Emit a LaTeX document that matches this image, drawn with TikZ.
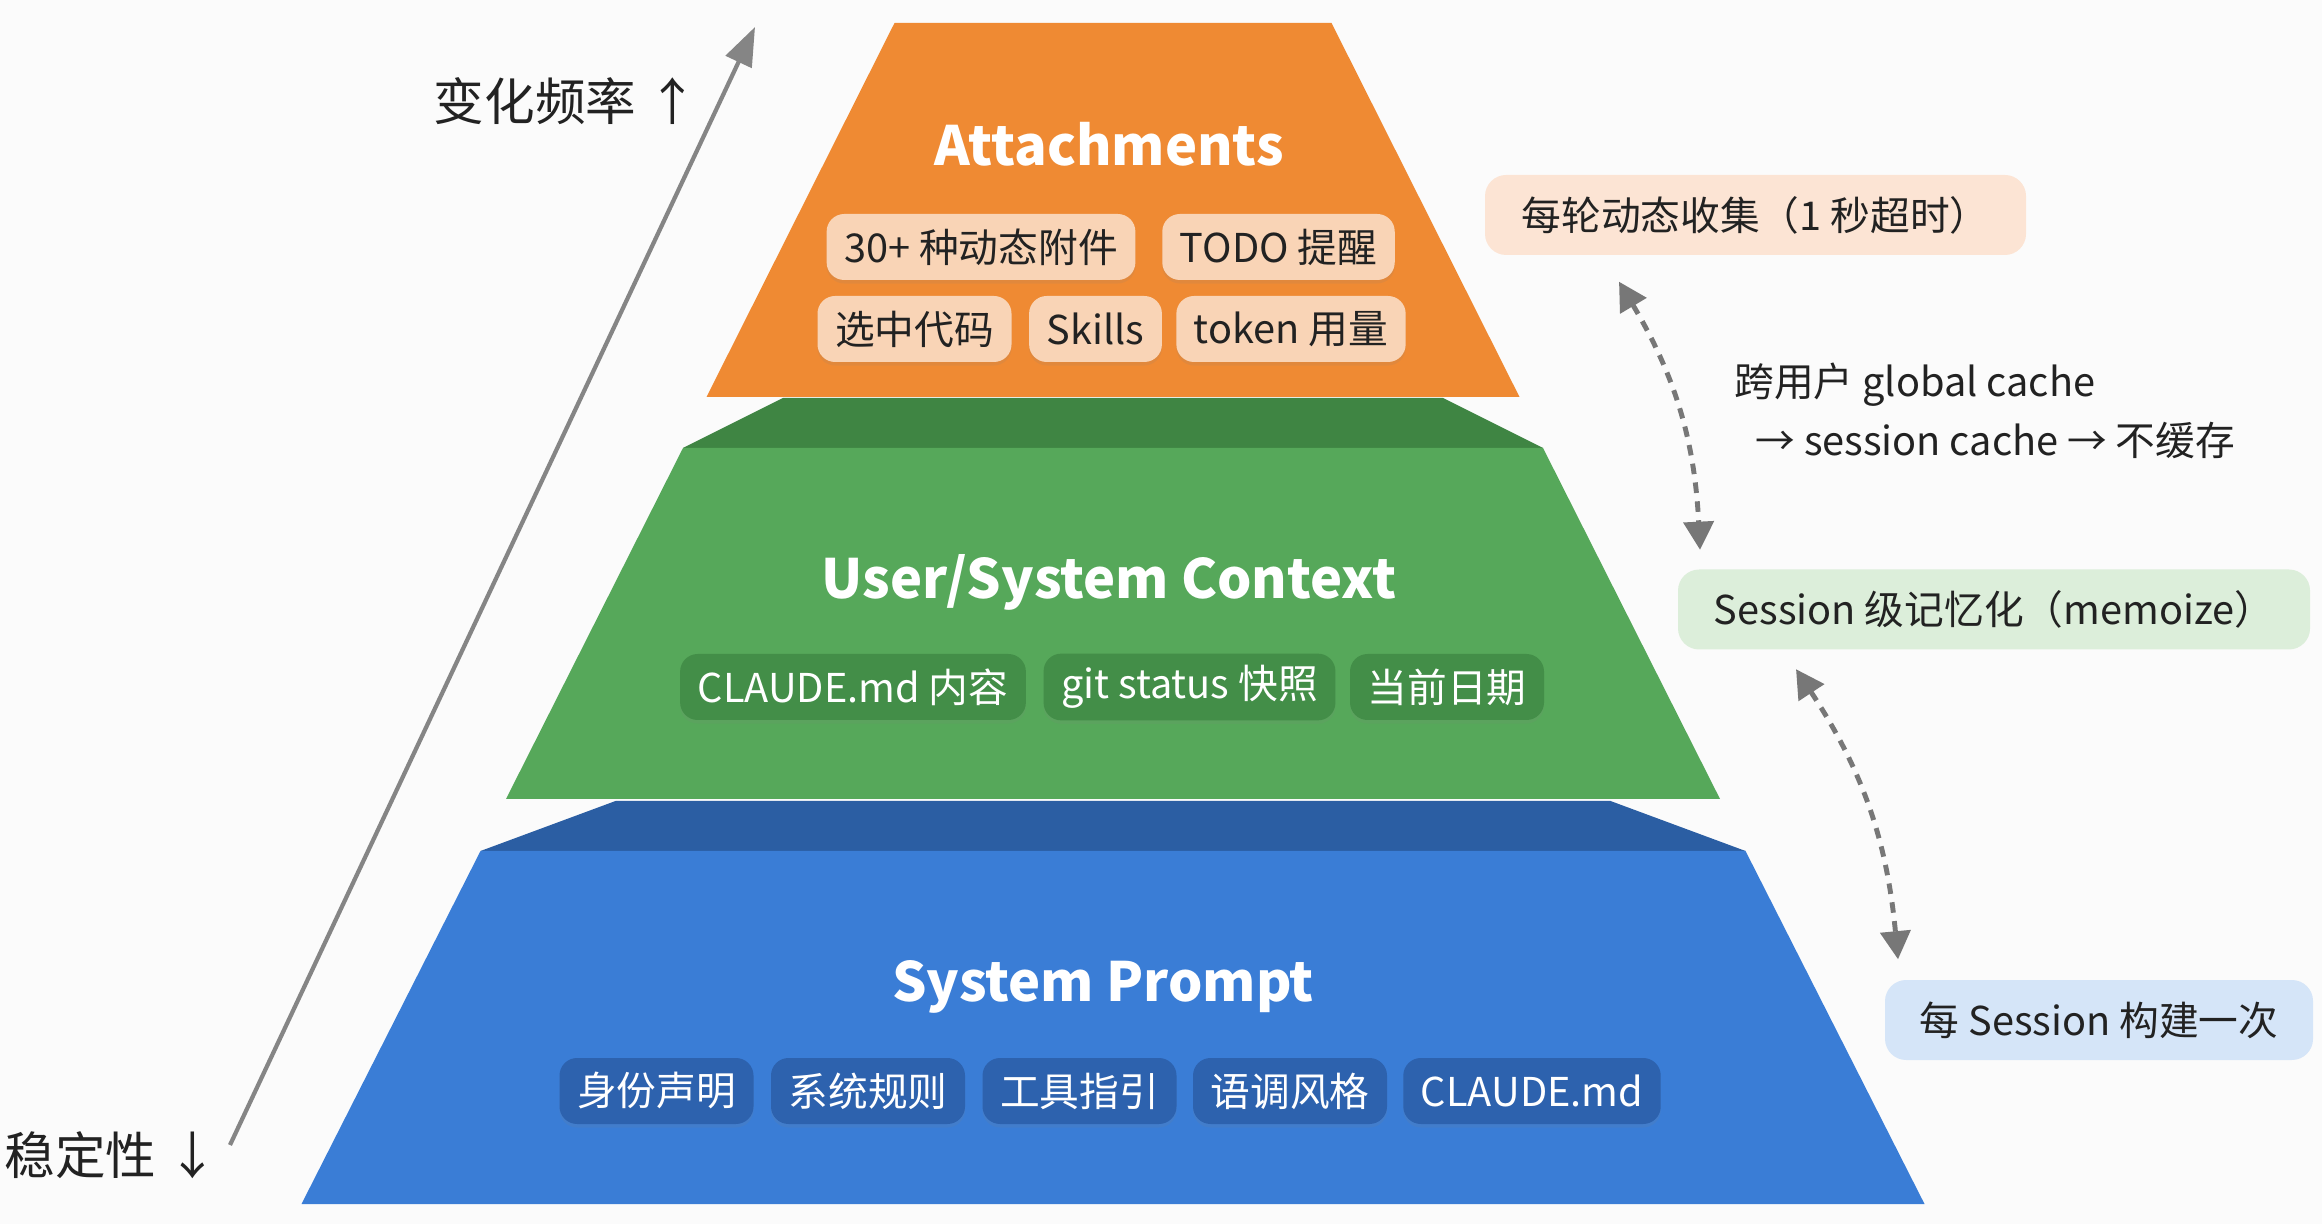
\documentclass[tikz,border=0pt]{standalone}
\usepackage{fontspec}
\setmainfont{Noto Sans CJK SC}
\usetikzlibrary{arrows.meta,shadows}

\definecolor{fondo}{HTML}{FBFBFB}
\definecolor{tinta}{HTML}{222222}
\definecolor{naranja}{HTML}{EF8A33}
\definecolor{naranjachip}{HTML}{F9D4B6}
\definecolor{verde}{HTML}{56A85A}
\definecolor{verdeosc}{HTML}{3F8543}
\definecolor{verdechip}{HTML}{438E48}
\definecolor{azul}{HTML}{3A7DD6}
\definecolor{azulosc}{HTML}{2B5EA3}
\definecolor{azulchip}{HTML}{2D62AE}
\definecolor{notanar}{HTML}{FCE4D4}
\definecolor{notaver}{HTML}{DCEEDA}
\definecolor{notaazu}{HTML}{D5E5F8}
\definecolor{flecha}{HTML}{777777}

\tikzset{
  titulo/.style={text=white, font=\fontsize{15.4}{18}\selectfont\bfseries},
  chip/.style={rounded corners=5pt, minimum height=0.66cm, inner xsep=5pt,
    font=\fontsize{11.3}{13}\selectfont,
    drop shadow={opacity=0.12, shadow xshift=0pt, shadow yshift=-1pt}},
  chipnar/.style={chip, fill=naranjachip, text=tinta},
  chipver/.style={chip, fill=verdechip, text=white},
  chipazu/.style={chip, fill=azulchip, text=white},
  nota/.style={rounded corners=6pt, minimum height=0.8cm, text=tinta,
    font=\fontsize{11.3}{13}\selectfont},
  cacheflecha/.style={flecha, line width=1.4pt, dash pattern=on 3pt off 2.4pt,
    {Triangle[length=8pt,width=8.5pt]}-{Triangle[length=8pt,width=8.5pt]}}
}

\begin{document}
\begin{tikzpicture}
  % Fondo y marco
  \useasboundingbox (0,0) rectangle (23.22,12.24);
  \fill[fondo] (0,0) rectangle (23.22,12.24);

  % Capa inferior: System Prompt
  \fill[azulosc] (6.155,4.23) -- (16.105,4.23) -- (17.455,3.73) -- (4.805,3.73) -- cycle;
  \fill[azul] (4.805,3.73) -- (17.455,3.73) -- (19.245,0.20) -- (3.015,0.20) -- cycle;

  % Capa media: User/System Context
  \fill[verdeosc] (7.83,8.26) -- (14.43,8.26) -- (15.43,7.76) -- (6.83,7.76) -- cycle;
  \fill[verde] (6.83,7.76) -- (15.43,7.76) -- (17.20,4.25) -- (5.06,4.25) -- cycle;

  % Capa superior: Attachments
  \fill[naranja] (8.945,12.01) -- (13.315,12.01) -- (15.195,8.27) -- (7.065,8.27) -- cycle;

  % Titulos de las capas
  \node[titulo] (adjuntos) at (11.09,10.80) {Attachments};
  \node[titulo] (contexto) at (11.09,6.42) {User/System Context};
  \node[titulo] (sistema) at (11.03,2.37) {System Prompt};

  % Etiquetas de Attachments
  \node[chipnar] (adj1) at (9.81,9.77) {30+ 种动态附件};
  \node[chipnar] (adj2) at (12.785,9.77) {TODO 提醒};
  \node[chipnar] (adj3) at (9.145,8.95) {选中代码};
  \node[chipnar] (adj4) at (10.955,8.95) {Skills};
  \node[chipnar] (adj5) at (12.91,8.95) {token 用量};

  % Etiquetas de User/System Context
  \node[chipver] (ctx1) at (8.53,5.37) {CLAUDE.md 内容};
  \node[chipver] (ctx2) at (11.895,5.37) {git status 快照};
  \node[chipver] (ctx3) at (14.47,5.37) {当前日期};

  % Etiquetas de System Prompt
  \node[chipazu] (sys1) at (6.565,1.33) {身份声明};
  \node[chipazu] (sys2) at (8.68,1.33) {系统规则};
  \node[chipazu] (sys3) at (10.795,1.33) {工具指引};
  \node[chipazu] (sys4) at (12.90,1.33) {语调风格};
  \node[chipazu] (sys5) at (15.32,1.33) {CLAUDE.md};

  % Eje: frecuencia de cambio frente a estabilidad
  \coordinate (ejeini) at (2.30,0.79);
  \coordinate (ejefin) at (7.55,11.97);
  \draw[flecha!90, line width=1.2pt, -{Triangle[length=11pt,width=8pt]}] (ejeini) -- (ejefin);
  \node[text=tinta, font=\fontsize{14.4}{16}\selectfont] (frecuencia) at (5.66,11.23) {变化频率 ↑};
  \node[text=tinta, anchor=west, inner sep=0pt, font=\fontsize{14.4}{16}\selectfont] (estabilidad) at (0.04,0.69) {稳定性 ↓};

  % Notas de la derecha
  \node[nota, fill=notanar, minimum width=5.41cm] (ronda) at (17.555,10.09) {每轮动态收集（1 秒超时）};
  \node[nota, fill=notaver, minimum width=6.32cm] (sesion) at (19.94,6.145) {Session 级记忆化（memoize）};
  \node[nota, fill=notaazu, minimum width=4.28cm] (porsesion) at (20.99,2.04) {每 Session 构建一次};

  % Flechas de cache
  \draw[cacheflecha] ([xshift=-1.365cm,yshift=-0.26cm]ronda.south) to[bend left=14]
    ([xshift=-2.94cm,yshift=0.19cm]sesion.north);
  \draw[cacheflecha] ([xshift=-1.98cm,yshift=-0.19cm]sesion.south) to[bend left=14]
    ([xshift=-2.01cm,yshift=0.20cm]porsesion.north);
  \node[anchor=west, align=left, text=tinta, font=\fontsize{11.3}{16.8}\selectfont] (nivelcache) at (17.22,8.135)
    {跨用户 global cache\\\hspace{0.21cm}→ session cache → 不缓存};
\end{tikzpicture}
\end{document}
